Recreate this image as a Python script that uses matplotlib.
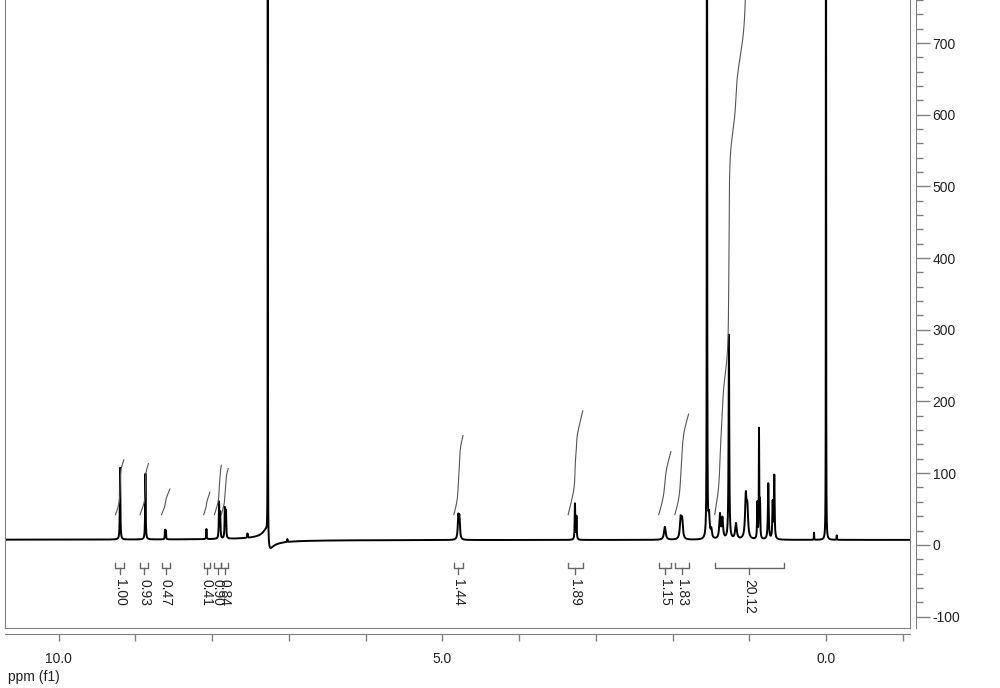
import numpy as np
import matplotlib
matplotlib.use("Agg")
import matplotlib.pyplot as plt
from matplotlib.ticker import MultipleLocator, FuncFormatter

plt.rcParams['font.family'] = ['Liberation Sans', 'DejaVu Sans']
plt.rcParams['axes.unicode_minus'] = False

# peak table: shift (ppm), height above baseline, half width (ppm)
peak_ppm = [9.200, 8.870, 8.615, 8.603, 8.075, 7.910, 7.895, 7.835, 7.820, 7.540,
            7.275, 7.020, 4.792, 4.778, 3.272, 3.252, 2.100, 1.895, 1.875,
            1.551, 1.525, 1.495, 1.382, 1.350, 1.265, 1.173, 1.045, 1.025,
            0.895, 0.873, 0.860, 0.752, 0.695, 0.674, 0.156, 0.000, -0.140]
peak_height = [100, 92, 13, 12, 14, 50, 35, 42, 38, 6,
               3000, 4, 30, 28, 50, 32, 18, 28, 26,
               3000, 30, 12, 34, 28, 285, 22, 58, 40,
               50, 150, 50, 78, 50, 88, 10, 3000, 6]
peak_width = [0.004, 0.004, 0.003, 0.003, 0.003, 0.004, 0.004, 0.004, 0.004, 0.003,
              0.0008, 0.003, 0.008, 0.008, 0.004, 0.004, 0.013, 0.011, 0.011,
              0.0015, 0.010, 0.010, 0.010, 0.010, 0.005, 0.012, 0.011, 0.011,
              0.004, 0.003, 0.004, 0.006, 0.005, 0.005, 0.002, 0.001, 0.002]
baseline = 7
# phase error on the CDCl3 line
solvent_ppm = 7.275
solvent_disp = 26
solvent_disp_width = 0.03

# integrals: region start/end (ppm) and value
int_start = [9.26, 8.94, 8.66, 8.11, 7.97, 7.88, 4.85, 3.36, 2.18, 1.97, 1.45]
int_end = [9.15, 8.83, 8.55, 8.03, 7.88, 7.79, 4.73, 3.17, 2.02, 1.79, 0.55]
int_values = [1.00, 0.93, 0.47, 0.41, 0.90, 0.84, 1.44, 1.89, 1.15, 1.83, 20.12]

xmin, xmax = 10.70, -1.095
ymin, ymax = -116, 760

x = np.linspace(xmax, xmin, 24000)[::-1]
y = np.full_like(x, baseline, dtype=float)
for p, h, w in zip(peak_ppm, peak_height, peak_width):
    y += h * w**2 / ((x - p)**2 + w**2)
d = x - solvent_ppm
y += solvent_disp * d * solvent_disp_width / (d**2 + solvent_disp_width**2)

fig = plt.figure(figsize=(10, 6.88), dpi=100)
ax = fig.add_axes([0.005, 0.0872, 0.905, 0.9128])
ax.plot(x, y, color='black', lw=1.4)
ax.set_xlim(xmin, xmax)
ax.set_ylim(ymin, ymax)
ax.set_xticks([])
ax.set_yticks([])
for s in ['left', 'right', 'bottom']:
    ax.spines[s].set_color('#808080')
ax.spines['top'].set_visible(False)

# integral curves and brackets
step = x[0] - x[1]
for a, b, v in zip(int_start, int_end, int_values):
    m = (x <= a) & (x >= b)
    xs = x[m]
    cum = np.cumsum(y[m]) * step
    cum = cum / cum[-1]
    ax.plot(xs, 42 + 76.7 * v * cum, color='#555555', lw=0.8)
    ax.plot([a, a, b, b], [-25, -32, -32, -25], color='#666666', lw=1)
    c = (a + b) / 2
    ax.plot([c, c], [-32, -40], color='#666666', lw=1)
    ax.text(c, -48, f'{v:.2f}', rotation=-90, ha='center', va='top',
            fontsize=10, color='#222222')

# right intensity axis
ay = ax.twinx()
ay.set_ylim(ymin, ymax)
for s in ['left', 'top', 'bottom']:
    ay.spines[s].set_visible(False)
ay.spines['right'].set_position(('outward', 4.3))
ay.spines['right'].set_color('#808080')
ay.yaxis.set_major_locator(MultipleLocator(100))
ay.yaxis.set_minor_locator(MultipleLocator(20))
ay.tick_params(axis='y', which='major', length=10, width=1, color='#808080',
               pad=2, labelsize=10, labelcolor='#222222')
ay.tick_params(axis='y', which='minor', length=5, width=1, color='#808080')
ay.set_yticks(np.arange(-100, 701, 100))

# bottom ppm axis
ax2 = ax.twiny()
ax2.set_xlim(xmin, xmax)
for s in ['left', 'top', 'right']:
    ax2.spines[s].set_visible(False)
ax2.spines['bottom'].set_visible(True)
ax2.spines['bottom'].set_position(('outward', 4.3))
ax2.spines['bottom'].set_color('#808080')
ax2.xaxis.set_ticks_position('bottom')
ax2.xaxis.set_label_position('bottom')
ax2.set_xticks(np.arange(-1, 11, 1))
ax2.xaxis.set_major_formatter(FuncFormatter(
    lambda v, pos: f'{v:.1f}' if abs(v % 5) < 1e-6 else ''))
ax2.tick_params(axis='x', length=5, width=1, color='#808080', pad=8,
                labelsize=10, labelcolor='#222222')

fig.text(0.008, 1 - 677 / 688, 'ppm (f1)', ha='left', va='center',
         fontsize=10, color='#222222')

fig.savefig('out.png', dpi=100)
